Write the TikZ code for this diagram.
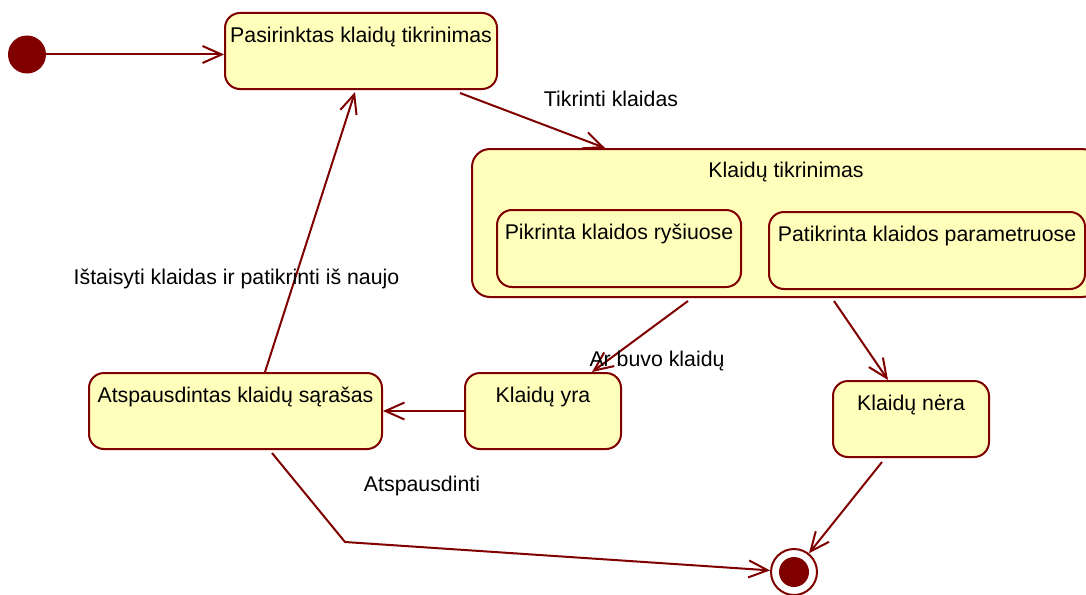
\documentclass[tikz,border=0pt]{standalone}
\usepackage{fontspec}
\setmainfont{Liberation Sans}
\usetikzlibrary{arrows.meta,calc}
\definecolor{umlred}{RGB}{128,0,0}
\definecolor{umlfill}{RGB}{255,255,187}
\begin{document}
\begin{tikzpicture}[x=1pt,y=-1pt,
  statebox/.style={draw=umlred, fill=umlfill, line width=2pt,
    rounded corners=15pt, inner sep=0pt},
  txt/.style={anchor=base, inner sep=0pt, font=\fontsize{21.3}{25}\selectfont},
  tr/.style={draw=umlred, line width=2pt,
    -{Straight Barb[length=19pt,width=17pt]}}
]
\clip (0,0) rectangle (1086,594);
\fill[white] (0,0) rectangle (1086,594);

% initial and final pseudo-states
\node[circle, fill=umlred, minimum size=38pt, inner sep=0pt] (init) at (27,54.5) {};
\node[circle, draw=umlred, fill=white, line width=2pt, minimum size=46pt,
  inner sep=0pt] (F) at (794,572) {};
\fill[umlred] (F.center) circle (15pt);

% simple states
\node[statebox, minimum width=272pt, minimum height=76pt] (A) at (361,51) {};
\node[txt] (At) at ($(A.north)+(0,30)$) {Pasirinktas klaidų tikrinimas};

\node[statebox, minimum width=293pt, minimum height=76pt] (L) at (235.5,411) {};
\node[txt] (Lt) at ($(L.north)+(0,30)$) {Atspausdintas klaidų sąrašas};

\node[statebox, minimum width=156pt, minimum height=76pt] (Y) at (543,411) {};
\node[txt] (Yt) at ($(Y.north)+(0,30)$) {Klaidų yra};

\node[statebox, minimum width=156pt, minimum height=76pt] (N) at (911,419) {};
\node[txt] (Nt) at ($(N.north)+(0,30)$) {Klaidų nėra};

% composite state with its two substates
\node[statebox, rounded corners=18pt, minimum width=628pt, minimum height=148pt] (C) at (786,223) {};
\node[txt] (Ct) at ($(C.north)+(0,29)$) {Klaidų tikrinimas};

\node[statebox, minimum width=244pt, minimum height=77pt] (P1) at (619,248.5) {};
\node[txt] (P1t) at ($(P1.north)+(0,30)$) {Pikrinta klaidos ryšiuose};

\node[statebox, minimum width=316pt, minimum height=77pt] (P2) at (927,250.5) {};
\node[txt] (P2t) at ($(P2.north)+(0,30)$) {Patikrinta klaidos parametruose};

% transitions
\draw[tr] (init) -- (init -| A.west);
\draw[tr] ([xshift=99pt,yshift=-3pt]A.south) -- ([xshift=-181pt]C.north);
\draw[tr] ([xshift=-98pt,yshift=-3pt]C.south) -- ([xshift=49pt]Y.north);
\draw[tr] ([xshift=48pt,yshift=-3pt]C.south) -- ([xshift=-23pt]N.north);
\draw[tr] (Y) -- (L);
\draw[tr] ([xshift=29.5pt]L.north) -- ([xshift=-6pt,yshift=-2pt]A.south);
\coordinate (bend) at (345,542);
\draw[tr] ([xshift=36.5pt,yshift=-3pt]L.south) -- (bend) -- (F);
\draw[tr] ([xshift=-29pt,yshift=-4pt]N.south) -- (F);

% transition labels
\node[txt] (l1) at (611,106) {Tikrinti klaidas};
\node[txt] (l2) at (657,366) {Ar buvo klaidų};
\node[txt] (l3) at (236.5,284) {Ištaisyti klaidas ir patikrinti iš naujo};
\node[txt] (l4) at (422,491) {Atspausdinti};
\end{tikzpicture}
\end{document}
